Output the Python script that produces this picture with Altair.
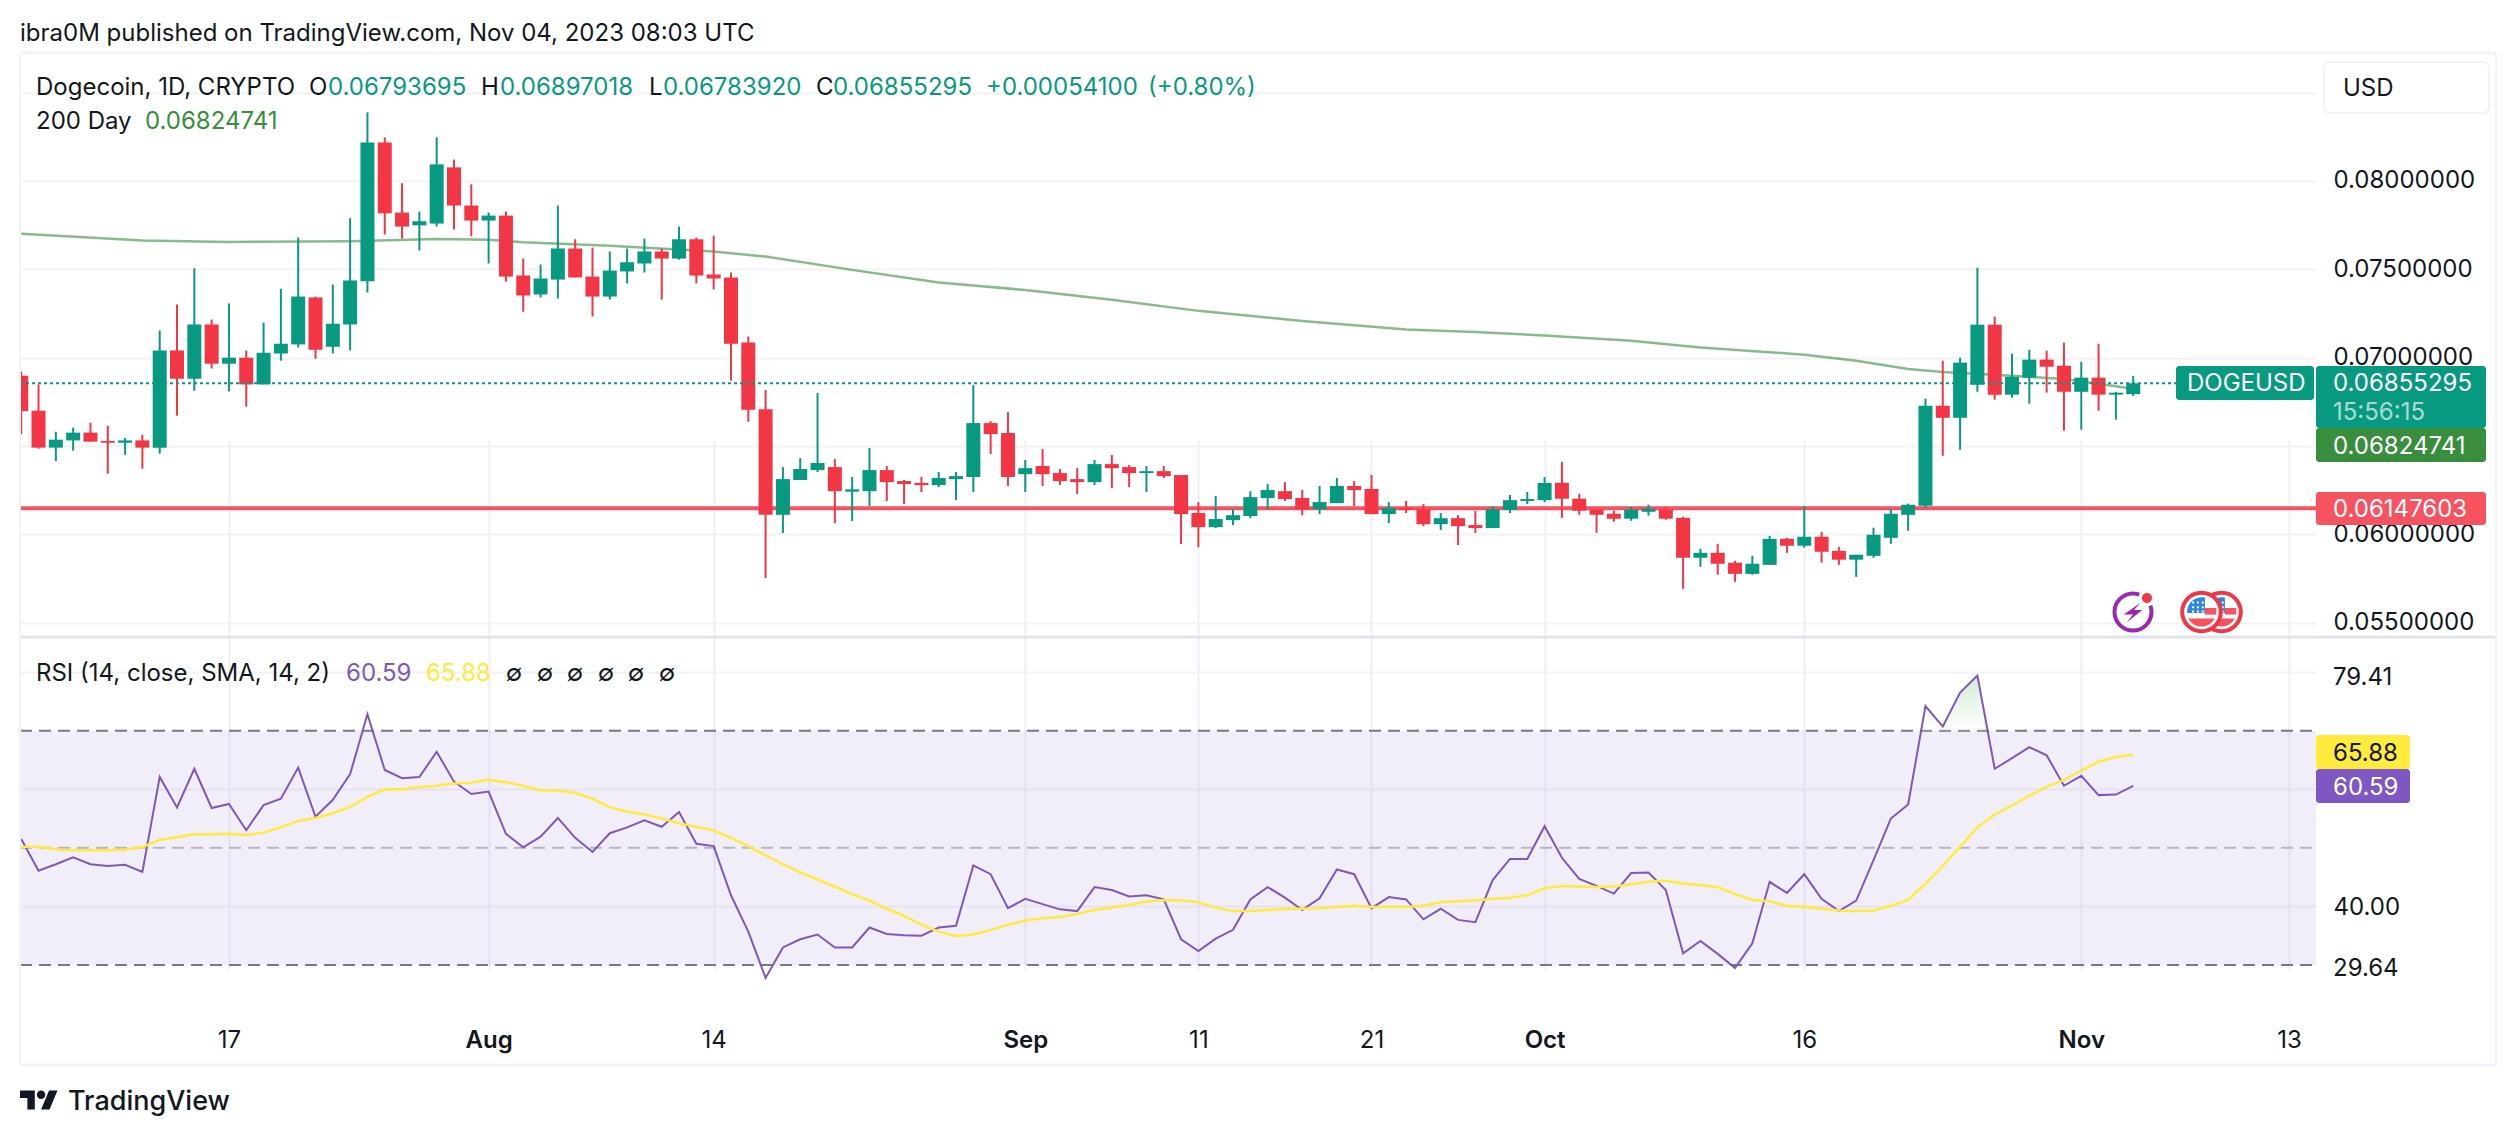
import altair as alt
import pandas as pd

# ---------- values (prices in units of 1e-5 USD) ----------
opens = [6898,6700,6491,6532,6576,6529,6519,6532,6491,7041,6881,7188,6966,7000,6849,7024,7075,7341,7062,7188,
         7433,8217,7821,7749,7759,8077,7861,7776,7804,7465,7358,7442,7618,7459,7346,7488,7533,7601,7561,7670,
         7471,7454,7086,6709,6111,6308,6364,6381,6242,6245,6364,6302,6291,6279,6313,6325,6630,6574,6341,6387,
         6347,6313,6296,6398,6381,6347,6358,6336,6121,6041,6081,6104,6206,6245,6206,6143,6177,6274,6257,6115,
         6149,6143,6058,6092,6053,6036,6138,6189,6194,6292,6202,6140,6117,6089,6128,6140,6094,5868,5896,5840,
         5777,5828,5975,5936,5987,5907,5857,5879,5981,6111,6162,6728,6660,6847,7187,6791,6887,6989,6955,6807,
         6887,6791,6793.695]
highs = [6922,6849,6581,6604,6632,6615,6546,6564,7154,7301,7506,7216,7307,7041,7199,7390,7680,7346,7414,7789,
         8388,8247,7987,7827,8247,8121,7981,7821,7827,7561,7527,7861,7670,7623,7601,7618,7674,7618,7742,7680,
         7691,7482,7120,6817,6381,6432,6800,6426,6325,6489,6387,6308,6325,6353,6353,6845,6641,6692,6421,6483,
         6370,6375,6421,6449,6392,6387,6387,6336,6183,6217,6143,6245,6285,6296,6251,6274,6319,6302,6336,6183,
         6189,6172,6121,6109,6132,6160,6223,6240,6325,6411,6230,6140,6134,6157,6168,6157,6100,5919,5947,5851,
         5879,5992,5981,6162,6015,5930,5885,6038,6145,6174,6768,6983,7000,7509,7232,7023,7045,7040,7085,6977,
         7079,6807,6897.018]
lows = [6566,6485,6416,6474,6525,6344,6450,6372,6457,6672,6813,6939,6809,6723,6849,6983,7058,6994,7024,7041,
        7369,7697,7674,7606,7742,7725,7687,7533,7431,7260,7341,7335,7454,7233,7329,7420,7482,7329,7555,7420,
        7386,6870,6638,5753,6008,6308,6353,6064,6076,6160,6189,6172,6240,6268,6194,6240,6455,6274,6240,6274,
        6279,6228,6279,6262,6268,6240,6319,5945,5928,6036,6053,6092,6143,6189,6109,6115,6177,6160,6115,6064,
        6121,6047,6025,5940,6008,6036,6121,6172,6183,6094,6111,6009,6072,6077,6106,6083,5692,5817,5772,5732,
        5772,5828,5896,5925,5840,5828,5760,5868,5947,6021,6151,6445,6479,6807,6762,6774,6740,6802,6587,6592,
        6700,6649,6783.92]
closes = [6698,6491,6536,6576,6525,6519,6532,6491,7041,6881,7188,6966,7000,6849,7028,7079,7346,7045,7192,7437,
          8217,7817,7742,7772,8094,7861,7776,7804,7459,7352,7448,7618,7454,7346,7493,7540,7601,7561,7670,7465,
          7448,7079,6706,6111,6313,6370,6404,6245,6255,6364,6296,6285,6279,6319,6330,6630,6568,6325,6375,6341,
          6302,6296,6398,6375,6347,6358,6330,6115,6041,6087,6109,6211,6251,6200,6143,6183,6274,6251,6115,6149,
          6138,6058,6092,6047,6036,6143,6194,6200,6291,6202,6134,6111,6089,6140,6145,6089,5868,5896,5834,5777,
          5834,5975,5936,5987,5902,5857,5885,5998,6117,6168,6728,6660,6972,7187,6791,6892,6989,6949,6807,6887,
          6791,6802,6855.295]

rsi = [51.5,46.1,47.2,48.4,47.2,46.9,47.1,45.9,62.1,56.9,63.5,56.8,57.5,53.0,57.3,58.4,63.7,55.3,58.2,62.6,
       72.8,63.3,61.9,62.1,66.4,61.3,59.2,59.6,52.4,50.1,51.9,55.1,51.7,49.3,52.5,53.5,54.7,53.6,56.1,50.7,
       50.3,41.9,35.7,27.8,33.0,34.4,35.2,33.0,33.0,36.4,35.3,35.1,35.0,36.4,36.7,47.0,45.5,39.7,41.3,40.4,
       39.5,39.2,43.3,42.8,41.7,41.9,41.2,34.4,32.4,34.5,36.0,41.2,43.3,41.5,39.4,41.4,46.3,45.5,39.7,41.6,
       41.2,37.8,39.6,37.7,37.3,44.5,48.1,48.1,53.7,48.3,44.7,43.5,42.2,45.7,45.8,42.8,32.0,34.1,31.9,29.5,
       33.7,44.2,42.3,45.5,41.3,39.2,41.0,47.9,55.0,57.4,74.2,70.7,76.5,79.41,63.5,65.3,67.2,65.8,60.6,62.3,
       59.0,59.1,60.59]
rsi_sma = [50.2,50.2,49.7,49.6,49.6,49.6,49.7,50.1,51.4,51.8,52.3,52.3,52.4,52.2,52.6,53.5,54.6,55.1,55.9,57.0,
           58.7,60.0,60.0,60.4,60.6,61.0,61.1,61.6,61.2,60.6,59.8,59.8,59.4,58.4,56.9,56.2,55.7,55.0,54.2,53.6,
           53.0,51.7,50.3,48.7,47.2,45.8,44.6,43.4,42.1,41.0,39.6,38.4,36.9,35.7,34.9,35.2,36.0,36.9,37.6,38.0,
           38.2,38.7,39.4,39.8,40.3,40.8,41.1,41.0,40.7,39.8,39.2,39.2,39.4,39.6,39.6,39.7,39.9,40.1,39.9,39.9,
           39.9,40.1,40.7,40.9,41.0,41.3,41.5,41.9,43.1,43.5,43.4,43.3,43.4,43.8,44.2,44.4,43.9,43.6,43.3,42.1,
           41.1,40.9,40.1,39.9,39.6,39.3,39.2,39.3,40.1,41.1,43.9,46.9,50.2,53.5,55.7,57.2,58.9,60.4,61.6,63.2,
           64.7,65.5,65.88]

ma_dates = ["2023-07-05","2023-07-12","2023-07-17","2023-07-24","2023-07-29","2023-08-01","2023-08-03","2023-08-08",
            "2023-08-14","2023-08-17","2023-08-22","2023-08-27","2023-09-01","2023-09-06","2023-09-11","2023-09-17",
            "2023-09-23","2023-09-27","2023-10-01","2023-10-06","2023-10-10","2023-10-16","2023-10-19","2023-10-22",
            "2023-10-24","2023-10-28","2023-10-31","2023-11-04"]
ma_values = [7702,7663,7655,7659,7672,7668,7653,7633,7601,7572,7497,7426,7383,7328,7265,7208,7160,7146,7125,7096,
             7058,7017,6983,6936,6919,6898,6879,6824.741]

ob_dates = ["2023-10-22T18:00:00Z","2023-10-23","2023-10-24","2023-10-25","2023-10-26","2023-10-26T14:24:00Z"]
ob_values = [70,74.2,70.7,76.5,79.41,70]

price_ticks = [0.055,0.06,0.065,0.07,0.075,0.08,0.085]
rsi_grid = [40,60,80]
last_price = 0.06855295
hline_price = 0.06147603
ma_last = 0.06824741
time_ticks = [(7,17),(8,1),(8,14),(9,1),(9,11),(9,21),(10,1),(10,16),(11,1),(11,13)]

GREEN, RED = "#089981", "#F23645"
INK = "#131722"
FONT = "Inter"
GRID = "#F0F3FA"

VX, VY = 20, 53          # view origin on the page
W, H = 2296, 956

assert all(len(a) == 123 for a in (opens, highs, lows, closes, rsi, rsi_sma))
assert len(ma_dates) == len(ma_values)
dates = pd.date_range("2023-07-05", periods=123, freq="D").strftime("%Y-%m-%d").tolist()
df = pd.DataFrame({"date": dates, "o": opens, "h": highs, "l": lows, "c": closes})
for k in "ohlc":
    df[k] = df[k] * 1e-5
df["top"] = df[["o", "c"]].max(axis=1)
df["bot"] = df[["o", "c"]].min(axis=1)
df["dir"] = ["up" if c >= o else "down" for o, c in zip(df.o, df.c)]
df["rsi"] = rsi
df["sma"] = rsi_sma
ma = pd.DataFrame({"date": ma_dates, "v": [v * 1e-5 for v in ma_values]})
ob = pd.DataFrame({"date": ob_dates, "v": ob_values})

xscale = alt.Scale(type="utc", nice=False, padding=0, domain=["2023-07-04T22:19:00Z", "2023-11-14T13:26:00Z"])
pscale = alt.Scale(domain=[0.055, 0.085], range=[622.8 - VY, 92.6 - VY], zero=False, nice=False)
rscale = alt.Scale(domain=[20, 85], range=[1023.6 - VY, 642.8 - VY], zero=False, nice=False)
color = alt.Color("dir:N", scale=alt.Scale(domain=["up", "down"], range=[GREEN, RED]), legend=None)

time_axis = alt.Axis(
    values=[alt.DateTime(year=2023, month=m, date=d, utc=True) for m, d in time_ticks],
    labelExpr="utcdate(datum.value)==1 ? utcFormat(datum.value,'%b') : utcFormat(datum.value,'%-d')",
    labelFontWeight=alt.expr("utcdate(datum.value)==1 ? 600 : 400"),
    labelFont=FONT, labelFontSize=24, labelColor=INK, labelPadding=19, labelOverlap=False, labelFlush=False,
    grid=True, gridColor="#EDEFF5", gridWidth=2, ticks=False, domain=False, title=None)
X = alt.X("date:T", scale=xscale, axis=time_axis, title=None)


def py(field):
    return alt.Y(field, scale=pscale, axis=None, title=None)


def ry(field):
    return alt.Y(field, scale=rscale, axis=None, title=None)


ONE = alt.Data(values=[{"k": 1}])


def text(s, x, y, col=INK, align="left", size=24, weight=400, opacity=1.0):
    return alt.Chart(ONE).mark_text(font=FONT, fontSize=size, fontWeight=weight, align=align, baseline="middle",
                                    color=col, opacity=opacity).encode(
        x=alt.value(x - VX), y=alt.value(y + 1.5 - VY), text=alt.value(s))


def box(x0, x1, y0, y1, fill, radius=3, stroke=None):
    kw = {"stroke": stroke, "strokeWidth": 2} if stroke else {}
    return alt.Chart(ONE).mark_rect(color=fill, cornerRadius=radius, **kw).encode(
        x=alt.value(x0 - VX), x2=alt.value(x1 - VX), y=alt.value(y0 - VY), y2=alt.value(y1 - VY))


def hrule(x0, x1, y, col, w=2):
    return alt.Chart(ONE).mark_rule(color=col, strokeWidth=w).encode(
        x=alt.value(x0 - VX), x2=alt.value(x1 - VX), y=alt.value(y - VY))


def vrule(x, y0, y1, col, w=2):
    return alt.Chart(ONE).mark_rule(color=col, strokeWidth=w).encode(
        x=alt.value(x - VX), y=alt.value(y0 - VY), y2=alt.value(y1 - VY))


def shape(path, x, y, d, fill, stroke=None, sw=0):
    kw = {"stroke": stroke, "strokeWidth": sw} if stroke else {"strokeWidth": 0}
    return alt.Chart(ONE).mark_point(shape=path, size=d * d, filled=True, fill=fill, opacity=1, **kw).encode(
        x=alt.value(x - VX), y=alt.value(y - VY))


layers = []

gridcfg = dict(grid=True, gridColor="#F2F2F4", gridWidth=2, ticks=False, domain=False, title=None)
price_axis = alt.Axis(values=price_ticks, orient="right",
                      labelExpr="(datum.value>0.0849 || abs(datum.value-0.065)<0.0001) ? '' : format(datum.value,'.8f')",
                      labelFont=FONT, labelFontSize=24, labelColor=INK, labelPadding=17, labelOverlap=False,
                      labelFlush=False, **gridcfg)
rsi_axis = alt.Axis(values=rsi_grid, orient="right", labelExpr="datum.value==40 ? '40.00' : ''",
                    labelFont=FONT, labelFontSize=24, labelColor=INK, labelPadding=17, labelOverlap=False,
                    labelFlush=False, labelOffset=1, **gridcfg)

layers.append(alt.Chart(ma).mark_line(color="#388E3C", opacity=0.6, strokeWidth=2.5).encode(
    x=X, y=alt.Y("v:Q", scale=pscale, axis=price_axis, title=None)))

band = pd.DataFrame({"a": [70], "b": [30]})
layers.append(alt.Chart(band).mark_rect(color="#7E57C2", opacity=0.1).encode(
    x=alt.value(0), x2=alt.value(W),
    y=alt.Y("a:Q", scale=rscale, axis=rsi_axis, title=None), y2="b:Q"))
for lvl, col in ((70, "#787B86"), (50, "#B6B4C2"), (30, "#787B86")):
    layers.append(alt.Chart(pd.DataFrame({"v": [lvl]})).mark_rule(color=col, strokeWidth=2, strokeDash=[12, 7]).encode(
        x=alt.value(0), x2=alt.value(W), y=ry("v:Q")))

layers.append(alt.Chart(pd.DataFrame({"v": [hline_price]})).mark_rule(color="#F7525F", strokeWidth=4).encode(
    x=alt.value(0), x2=alt.value(W), y=py("v:Q")))

layers.append(alt.Chart(df).mark_rule(strokeWidth=2, clip=True).encode(x=X, y=py("h:Q"), y2="l:Q", color=color))
layers.append(alt.Chart(df).mark_bar(size=14, clip=True).encode(x=X, y=py("top:Q"), y2="bot:Q", color=color))

layers.append(alt.Chart(pd.DataFrame({"v": [last_price]})).mark_rule(color=GREEN, strokeWidth=2, strokeDash=[3, 3]).encode(
    x=alt.value(0), x2=alt.value(2176 - VX), y=py("v:Q")))

grad = alt.Gradient(gradient="linear", x1=1, x2=1, y1=0, y2=1,
                    stops=[alt.GradientStop(color="#4CAF50", offset=0), alt.GradientStop(color="#FFFFFF", offset=1)])
layers.append(alt.Chart(ob).mark_area(color=grad, opacity=0.25).encode(
    x=X, y=ry("v:Q"), y2=alt.Y2(datum=70)))
layers.append(alt.Chart(df).mark_line(color="#7E57C2", strokeWidth=2).encode(x=X, y=ry("rsi:Q")))
layers.append(alt.Chart(df).mark_line(color="#FFEB3B", strokeWidth=2.5).encode(x=X, y=ry("sma:Q")))

layers += [
    hrule(20, 2496, 53, GRID, 3),
    hrule(20, 2496, 1065, GRID, 3),
    hrule(20, 2496, 637, "#E0E3EB", 3),
    vrule(20, 53, 1065, GRID, 2),
    vrule(2496, 53, 1065, GRID, 2),
]

layers += [
    box(2324, 2489, 62, 113, "#FFFFFF", 6, GRID),
    text("USD", 2343, 87),
    box(2176, 2314, 366, 400, GREEN),
    text("DOGEUSD", 2187, 382, "#FFFFFF"),
    box(2316, 2486, 366, 428, GREEN),
    text("0.06855295", 2333, 382, "#FFFFFF"),
    text("15:56:15", 2333, 411, "#FFFFFF", opacity=0.65),
    box(2316, 2486, 428, 462, "#388E3C"),
    text(f"{ma_last:.8f}", 2333, 445, "#FFFFFF"),
    box(2316, 2486, 492, 525, "#F7525F"),
    text(f"{hline_price:.8f}", 2333, 508, "#FFFFFF"),
    box(2316, 2410, 735, 769, "#FFEB3B"),
    text("65.88", 2333, 752, INK),
    box(2316, 2410, 769, 803, "#7E57C2"),
    text("60.59", 2333, 786, "#FFFFFF"),
    text("79.41", 2333, 676),
    text("29.64", 2333, 967),
]

layers += [
    text("ibra0M published on TradingView.com, Nov 04, 2023 08:03 UTC", 20, 32),
    text("Dogecoin, 1D, CRYPTO", 36, 86),
    text("O", 309, 86), text("0.06793695", 328, 86, GREEN),
    text("H", 481, 86), text("0.06897018", 500, 86, GREEN),
    text("L", 649, 86), text("0.06783920", 663, 86, GREEN),
    text("C", 816, 86), text("0.06855295", 833, 86, GREEN),
    text("+0.00054100", 986, 86, GREEN), text("(+0.80%)", 1148, 86, GREEN),
    text("200 Day", 36, 120), text("0.06824741", 145, 120, "#388E3C"),
    text("RSI (14, close, SMA, 14, 2)", 36, 672),
    text("60.59", 346, 672, "#7E57C2"), text("65.88", 426, 672, "#FFEB3B"),
]
for gx in (514, 545, 575, 606, 636, 667):
    layers.append(text("∅", gx, 672, INK, align="center", size=24))

# small badges near the time scale
CIRCLE = "M-1,0a1,1 0 1,0 2,0a1,1 0 1,0 -2,0Z"
BOLT = "M0.72,-0.88L-0.88,0.24H0L-0.6,1L0.88,-0.2H0.08Z"
CANTON = "M-0.72,0.05A0.75,0.75 0 0 1 0.17,-0.73V0.05Z"
STRIPE1 = "M0.17,-0.2H0.74V0.13H0.17Z"
STRIPE2 = "M-0.66,0.32A0.74,0.74 0 0 0 0.66,0.32Z"
STARS = "".join(f"M{sx - 0.05:.2f},{sy - 0.05:.2f}h0.1v0.1h-0.1Z"
                for sx in (-0.42, -0.18, 0.06) for sy in (-0.48, -0.24, -0.02))


def coin(cx, cy):
    return [shape(CIRCLE, cx, cy, 38.6, "#FFFFFF", "#F23645", 4),
            shape(STRIPE1, cx, cy, 40, "#F7525F"), shape(STRIPE2, cx, cy, 40, "#F7525F"),
            shape(CANTON, cx, cy, 40, "#2E86DE"), shape(STARS, cx, cy, 40, "#FFFFFF")]


layers += [shape(CIRCLE, 2133, 612, 37, "#FFFFFF", "#9C27B0", 4),
           shape(CIRCLE, 2147, 598, 17, "#FFFFFF"), shape(CIRCLE, 2147, 598, 10, "#F23645"),
           shape(BOLT, 2133, 612, 21, "#9C27B0")]
layers += coin(2221.5, 612) + coin(2201.5, 612)

TV = ("M-0.222,0.5H-0.611V-0.111H-1V-0.5H-0.222ZM0.556,0.5H0.111L0.528,-0.5H0.972Z"
      "M-0.111,-0.278a0.222,0.222 0 1,0 0.444,0a0.222,0.222 0 1,0 -0.444,0Z")
layers += [shape(TV, 39, 1100, 38, INK), text("TradingView", 68, 1100, INK, size=27, weight=500)]

chart = alt.layer(*layers).resolve_scale(y="independent").properties(
    width=W, height=H,
    padding={"left": VX - 8, "top": VY - 8, "right": 2500 - W - (VX - 8), "bottom": 1118 - H - (VY - 8)},
    autosize=alt.AutoSizeParams(type="none"),
    background="#FFFFFF",
).configure_view(stroke=None)

chart.save("out.html", embed_options={"renderer": "svg", "actions": False})
